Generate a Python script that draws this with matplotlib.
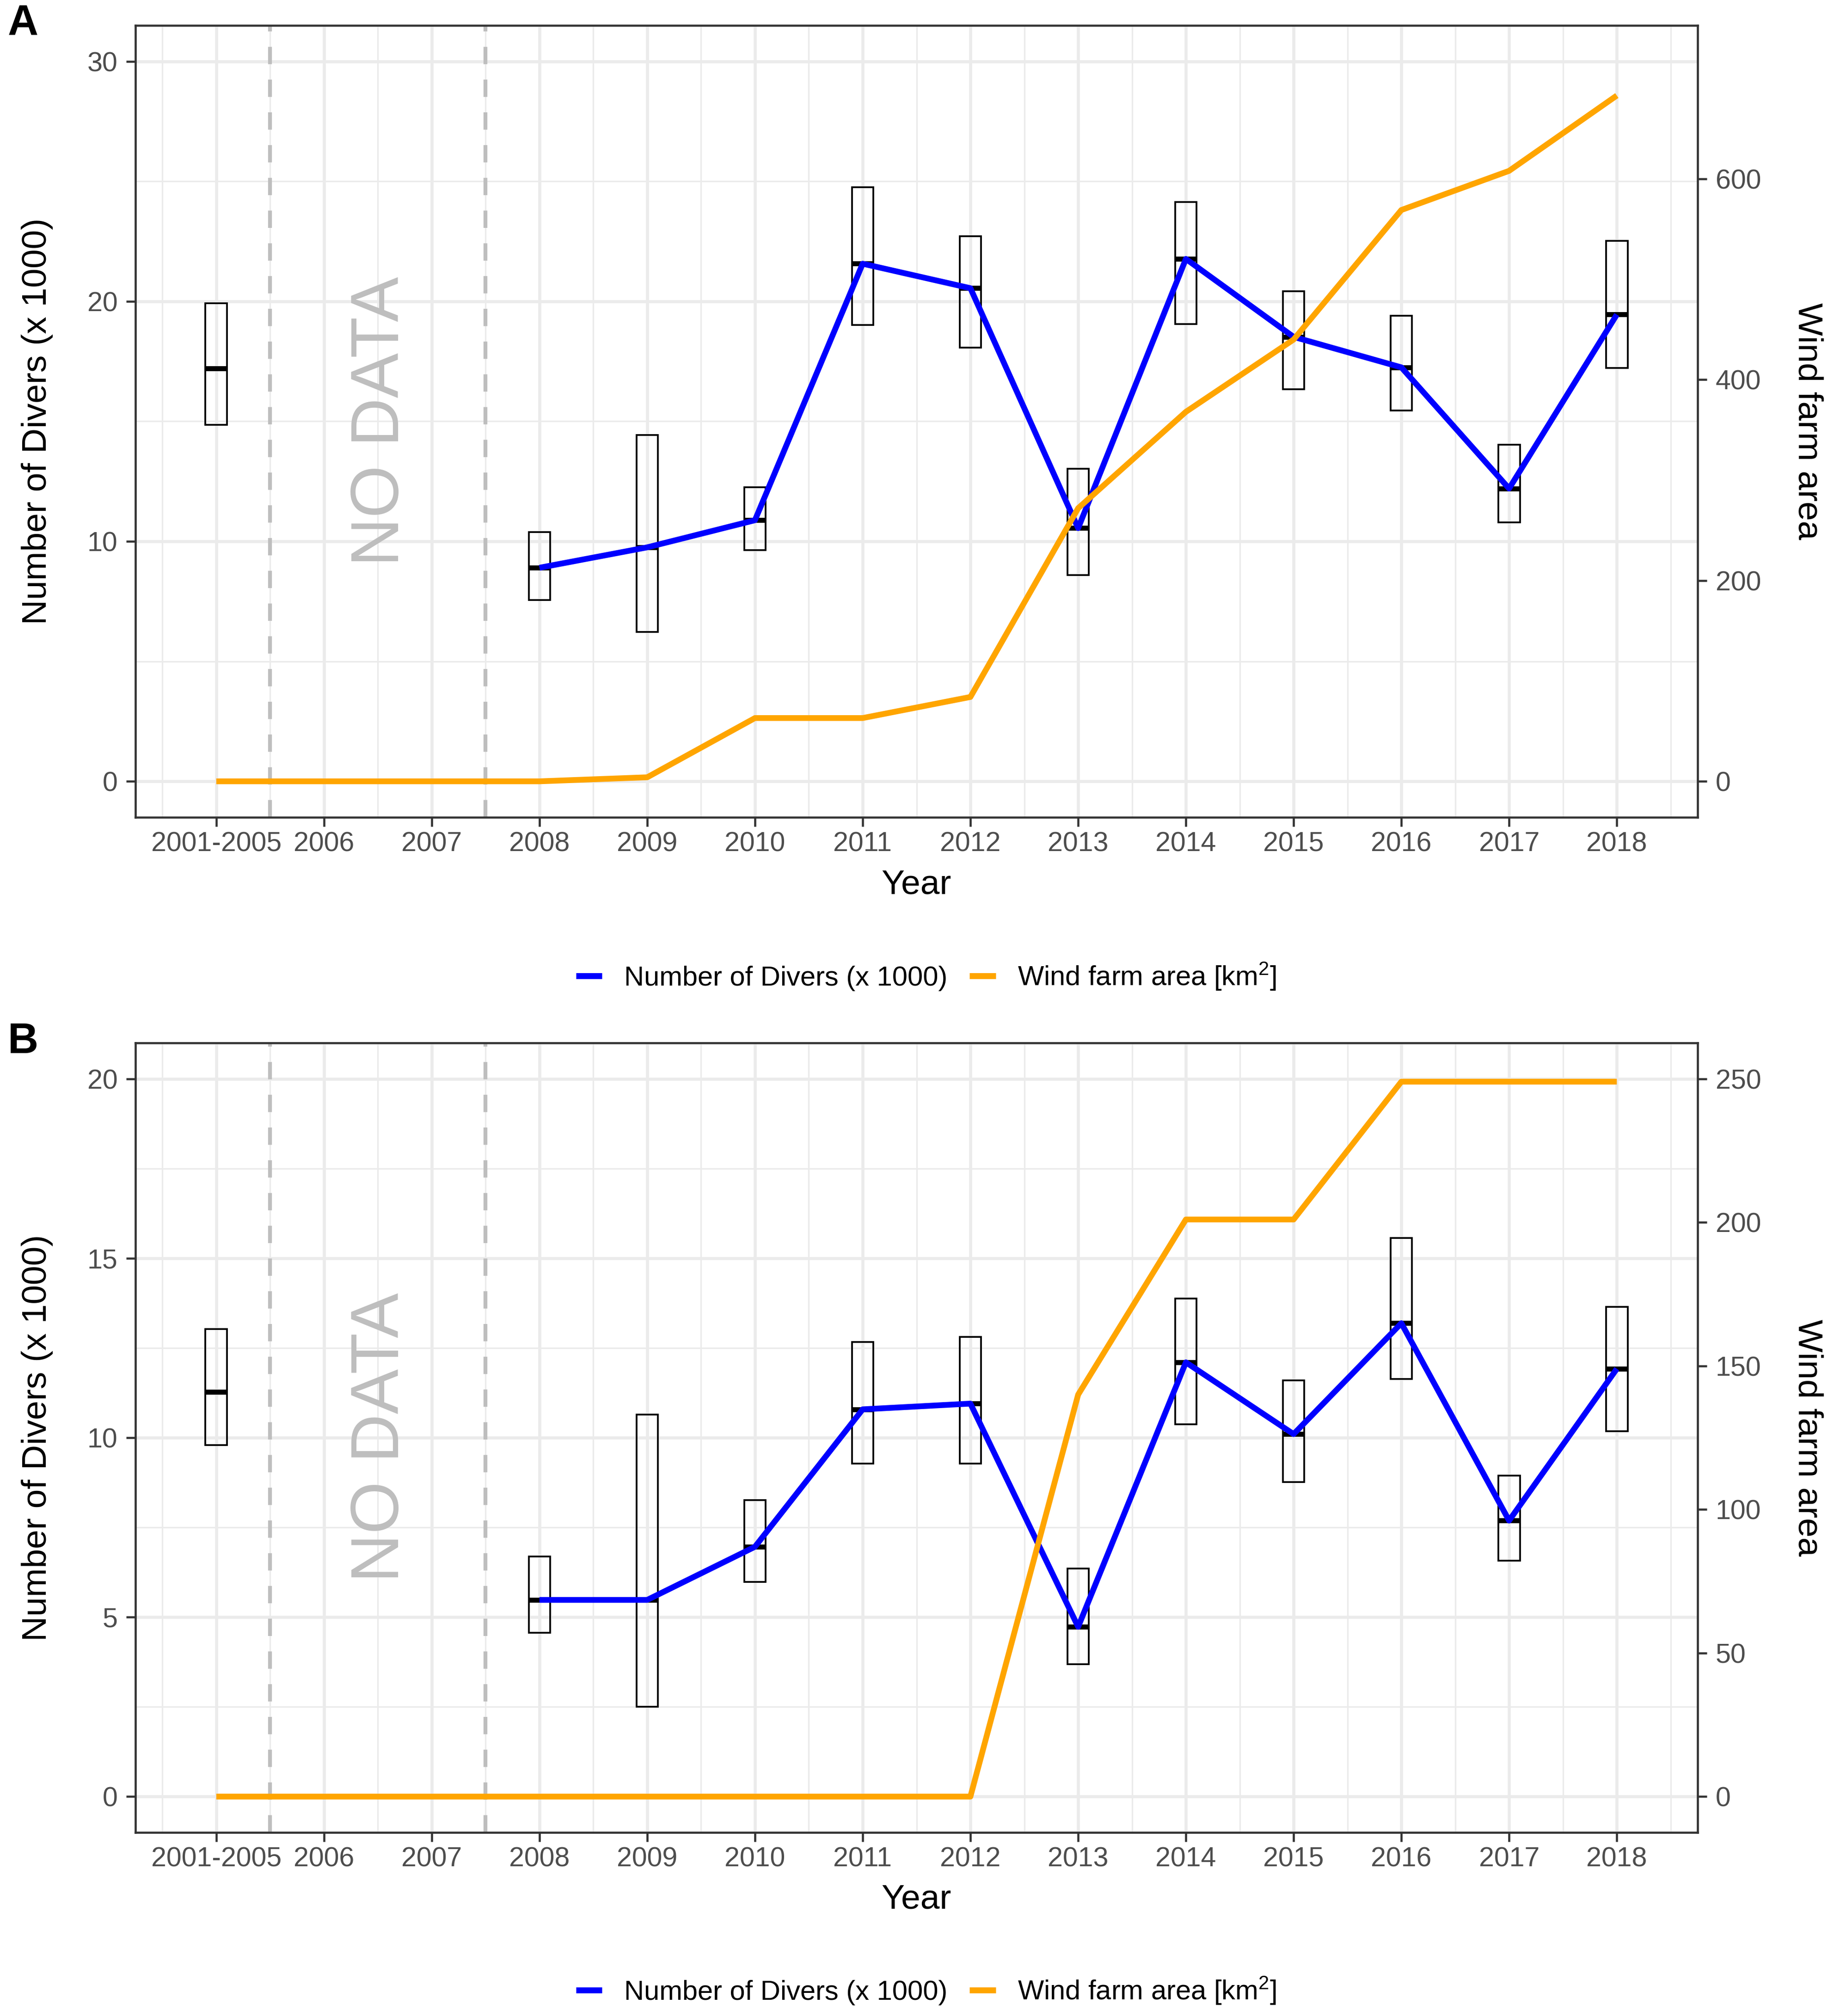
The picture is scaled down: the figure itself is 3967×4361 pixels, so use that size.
import matplotlib

matplotlib.use("Agg")
import matplotlib.pyplot as plt
import numpy as np
from matplotlib.lines import Line2D
from matplotlib.patches import Rectangle

# x categories (2006 and 2007 have no diver counts)
years = ["2001-2005", "2006", "2007", "2008", "2009", "2010", "2011",
         "2012", "2013", "2014", "2015", "2016", "2017", "2018"]
diver_years = ["2001-2005", "2008", "2009", "2010", "2011", "2012",
               "2013", "2014", "2015", "2016", "2017", "2018"]

# panel A: divers (x 1000), mean with lower / upper bound
divers_a = [17.2, 8.9, 9.75, 10.88, 21.57, 20.55, 10.55, 21.77, 18.52, 17.25, 12.2, 19.45]
lower_a = [14.86, 7.55, 6.22, 9.63, 19.01, 18.08, 8.59, 19.05, 16.33, 15.45, 10.8, 17.22]
upper_a = [19.93, 10.38, 14.44, 12.25, 24.76, 22.71, 13.02, 24.15, 20.43, 19.4, 14.03, 22.52]
# panel A: wind farm area [km2]
wind_a = [0, 0, 0, 0, 4, 63, 63, 84, 272, 368, 440, 569, 608, 683]

# panel B
divers_b = [11.27, 5.48, 5.48, 6.96, 10.79, 10.95, 4.73, 12.1, 10.1, 13.19, 7.69, 11.92]
lower_b = [9.8, 4.57, 2.5, 5.98, 9.28, 9.28, 3.69, 10.37, 8.76, 11.64, 6.58, 10.18]
upper_b = [13.03, 6.69, 10.64, 8.26, 12.67, 12.81, 6.35, 13.88, 11.6, 15.56, 8.94, 13.64]
wind_b = [0, 0, 0, 0, 0, 0, 0, 0, 140, 201, 201, 249, 249, 249]

BLUE = "#0000FF"
ORANGE = "#FFA500"
GRID = "#EBEBEB"
DASH = "#BEBEBE"
TEXT_GRAY = "#4D4D4D"
DARK = "#333333"

plt.rcParams["font.family"] = ["Liberation Sans", "DejaVu Sans"]
plt.rcParams["mathtext.default"] = "regular"
plt.rcParams["lines.scale_dashes"] = False
plt.rcParams["axes.linewidth"] = 1.1
plt.rcParams["axes.edgecolor"] = DARK

TICK_SIZE = 14.2
TITLE_SIZE = 18


def draw_panel(ax, divers, lower, upper, wind, ylim, yticks, ratio, wind_ticks, no_data_y):
    pos = {name: i + 1 for i, name in enumerate(years)}
    x_years = np.arange(1, len(years) + 1)
    x_div = np.array([pos[y] for y in diver_years])

    ax.set_xlim(0.25, len(years) + 0.75)
    ax.set_ylim(*ylim)
    ax.set_xticks(x_years, labels=years)
    ax.set_xticks(np.arange(0.5, len(years) + 1, 1), minor=True)
    ax.set_yticks(yticks)
    step = yticks[1] - yticks[0]
    ax.set_yticks(np.arange(yticks[0] + step / 2, ylim[1], step), minor=True)
    ax.grid(which="major", color=GRID, lw=1.6)
    ax.grid(which="minor", color=GRID, lw=0.8)
    ax.set_axisbelow(True)
    ax.tick_params(which="major", length=4.8, width=1.1, color=DARK,
                   labelsize=TICK_SIZE, labelcolor=TEXT_GRAY)
    ax.tick_params(axis="x", pad=2.5)
    ax.tick_params(axis="y", pad=4.5)
    ax.tick_params(which="minor", length=0)

    # periods without data
    for xv in (1.5, 3.5):
        ax.axvline(xv, color=DASH, lw=2.0, dashes=(9, 8), zorder=1)
    ax.text(2.53, no_data_y, "NO DATA", rotation=90, fontsize=35, color=DASH,
            ha="center", va="center", zorder=1)

    # boxes: lower/upper bound with the mean as a thick bar
    w = 0.2
    for x, m, lo, hi in zip(x_div, divers, lower, upper):
        ax.add_patch(Rectangle((x - w / 2, lo), w, hi - lo, fill=False,
                               ec="black", lw=0.9, zorder=2))
        ax.plot([x - w / 2, x + w / 2], [m, m], color="black", lw=2.6,
                solid_capstyle="butt", zorder=2)

    ax.plot(x_div[1:], divers[1:], color=BLUE, lw=3, solid_capstyle="butt", zorder=3)

    ax2 = ax.twinx()
    ax2.plot(x_years, wind, color=ORANGE, lw=3, solid_capstyle="butt")
    ax2.set_ylim(ylim[0] * ratio, ylim[1] * ratio)
    ax2.set_yticks(wind_ticks)
    ax2.tick_params(length=4.8, width=1.1, color=DARK, labelsize=TICK_SIZE,
                    labelcolor=TEXT_GRAY, pad=4.5)
    for sp in ax2.spines.values():
        sp.set_visible(False)

    ax.text(-0.063, 0.5, "Number of Divers (x 1000)", rotation=90, fontsize=TITLE_SIZE,
            ha="center", va="center", transform=ax.transAxes)
    ax.text(1.0705, 0.5, "Wind farm area", rotation=270, fontsize=TITLE_SIZE,
            ha="center", va="center", transform=ax.transAxes)
    ax.text(0.5, -0.085, "Year", fontsize=TITLE_SIZE, ha="center", va="center",
            transform=ax.transAxes)


fig = plt.figure(figsize=(3967 / 300, 4361 / 300), dpi=300)
ax_a = fig.add_axes([0.07386, 0.59459, 0.85178, 0.39280])
ax_b = fig.add_axes([0.07386, 0.09103, 0.85178, 0.39165])

draw_panel(ax_a, divers_a, lower_a, upper_a, wind_a, (-1.5, 31.5),
           [0, 10, 20, 30], 23.9, [0, 200, 400, 600], 15)
draw_panel(ax_b, divers_b, lower_b, upper_b, wind_b, (-1.0, 21.0),
           [0, 5, 10, 15, 20], 12.5, [0, 50, 100, 150, 200, 250], 10)

fig.text(0.0126, 0.9881, "A", fontsize=22, fontweight="bold", ha="center", va="center")
fig.text(0.0126, 0.4831, "B", fontsize=22, fontweight="bold", ha="center", va="center")

handles = [Line2D([], [], color=BLUE, lw=3.1, solid_capstyle="butt"),
           Line2D([], [], color=ORANGE, lw=3.1, solid_capstyle="butt")]
labels = ["Number of Divers (x 1000)", "Wind farm area [km$^{2}$]"]
for ly in (0.5157, 0.0125):
    fig.legend(handles, labels, loc="center", bbox_to_anchor=(0.505, ly), ncol=2,
               frameon=False, fontsize=14.3, handlelength=0.95, handletextpad=0.8,
               columnspacing=0.8, borderaxespad=0, borderpad=0)

fig.savefig("out.png", dpi=300)
